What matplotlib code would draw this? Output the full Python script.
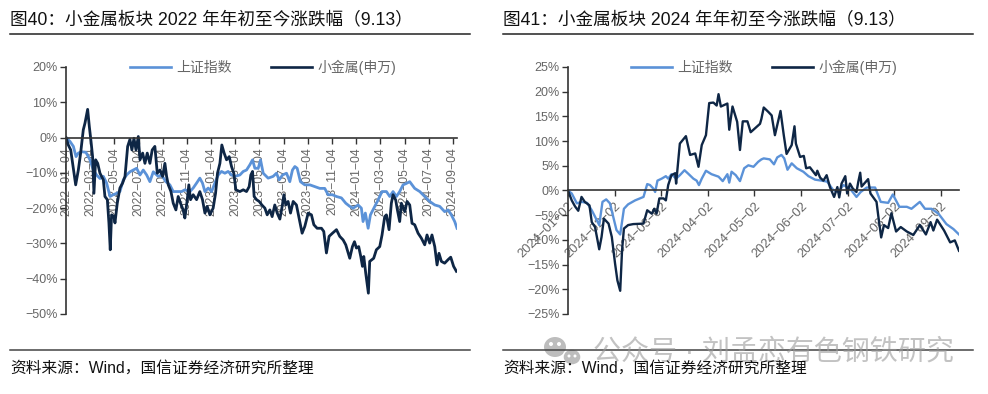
import numpy as np
import matplotlib
matplotlib.use('Agg')
import matplotlib.pyplot as plt
from matplotlib.patches import Ellipse

plt.rcParams['font.family'] = ['Liberation Sans', 'Noto Sans CJK SC', 'DejaVu Sans']
plt.rcParams['axes.unicode_minus'] = True

# x = months since start of each chart, y = percent
m22_dark = [0,.19,.39,.55,.8,1.02,1.21,1.43,1.57,1.79,1.93,2.07,2.2,2.31,2.45,2.62,2.81,3.09,3.22,3.42,3.55,3.66,3.77,3.97,4.05,4.24,4.46,4.68,4.88,5.1,5.29,5.45,5.62,5.79,5.98,6.12,6.34,6.53,6.72,6.94,7.13,7.35,7.55,7.77,7.99,8.18,8.32,8.46,8.68,8.87,9.09,9.28,9.47,9.69,9.83,10.03,10.16,10.3,10.52,10.8,11.07,11.29,11.49,11.68,11.9,12.17,12.37,12.53,12.73,12.89,13.08,13.28,13.5,13.69,13.88,14.05,14.38,14.66,14.93,15.15,15.29,15.43,15.56,15.76,15.98,16.2,16.45,16.64,16.86,17.05,17.27,17.47,17.69,17.88,18.02,18.18,18.37,18.57,18.79,19.06,19.28,19.53,19.75,20.03,20.3,20.5,20.77,21.13,21.32,21.54,21.76,22.04,22.37,22.64,22.92,23.14,23.47,23.69,23.86,24.02,24.21,24.38,24.52,24.63,24.79,25.01,25.12,25.45,25.67,25.95,26.14,26.36,26.5,26.72,26.91,27.05,27.27,27.41,27.6,27.74,28.02,28.21,28.43,28.62,28.84,29.12,29.39,29.67,29.86,30.08,30.27,30.5,30.69,30.85,31.05,31.32,31.6,31.82,32.06,32.29]
v22_dark = [0,-2.1,-3.5,-7.3,-13.4,-9.2,-4.4,2.2,4.1,8,3.1,-1.1,-5.4,-15.8,-6.3,-7.3,-10.1,-12,-16.7,-17.6,-24.2,-31.8,-21.9,-22.4,-24.2,-18.6,-14.3,-12.9,-11,-2.5,-.5,-3.5,-.2,-3.5,.3,-6.3,-4.4,-7.3,-4.4,-7.3,-3.5,-2.5,-10.1,-9.2,-11,-7.3,-11,-13.4,-15.3,-18.6,-20.5,-16.7,-18.6,-20.5,-22.8,-17.6,-13.4,-17.6,-16.2,-17.6,-15.3,-17.6,-21.4,-19.5,-21.9,-20,-15.8,-10.1,-7.3,-2.1,-4.4,-6.3,-5.4,-8.2,-10.1,-14.8,-15.3,-14.8,-15.3,-13.9,-10.6,-9.6,-16.7,-17.6,-18.1,-19.1,-20,-21.9,-20.5,-22.4,-19.1,-21.4,-23.1,-19.5,-16.2,-19.1,-18.1,-21.4,-18.1,-19.1,-22.8,-27.1,-25.2,-21.4,-21.9,-24.7,-25.7,-25.7,-26.6,-32.7,-28,-27.1,-26.1,-28,-29,-30.4,-34.2,-30.9,-29.5,-31.3,-30.9,-33.7,-36.5,-33.7,-38.4,-44.1,-35.1,-34.2,-31.8,-30.9,-27.6,-22.4,-21.9,-26.1,-18.6,-16.2,-17.7,-20.5,-23.8,-18.6,-21,-18.1,-19.1,-24.3,-24.7,-27.1,-28.5,-30.4,-27.6,-29.9,-27.6,-30.9,-36.1,-32.8,-35.1,-35.6,-34.6,-33.9,-36.5,-37.9]

m22_blue = [0,.33,.61,.83,1.02,1.29,1.65,1.98,2.26,2.53,2.81,3.09,3.36,3.64,3.91,4.19,4.46,4.74,5.01,5.29,5.56,5.84,6.12,6.39,6.67,6.94,7.22,7.63,7.9,8.26,8.59,8.87,9.2,9.56,9.83,10.25,10.52,10.8,11.07,11.29,11.49,11.76,12.04,12.31,12.59,12.86,13.14,13.41,13.69,13.97,14.38,14.66,14.93,15.21,15.43,15.62,15.9,16.09,16.31,16.72,17.13,17.41,17.63,17.91,18.24,18.51,18.73,18.93,19.12,19.39,19.75,20.17,20.58,20.99,21.4,21.68,22.04,22.37,22.78,23.14,23.47,23.75,24.16,24.43,24.57,24.76,24.99,25.18,25.54,25.81,26.14,26.5,26.78,27.05,27.33,27.6,27.88,28.15,28.43,28.84,29.26,29.67,30.08,30.5,30.91,31.32,31.6,31.87,32.15,32.34]
v22_blue = [0,-1.1,-2.5,-5.4,-4.4,-4,-4.2,-6.3,-9.2,-10.6,-11.6,-11,-12.9,-16.7,-16.2,-15.8,-15.3,-12,-10.6,-9.7,-9.2,-8.7,-10.6,-9.2,-10.6,-12.5,-9.7,-11,-10.6,-12.5,-13.4,-15.3,-15.3,-15.3,-14.8,-15.3,-14.3,-12.9,-11.5,-12.9,-15.3,-14.3,-15.3,-12.9,-10.6,-9.6,-10.1,-9.6,-10.6,-11,-10.6,-9.6,-9.2,-7.7,-6.3,-8.7,-8.7,-6.3,-10.1,-11.5,-11,-10.1,-12,-10.6,-10.1,-12.5,-9.2,-8.2,-8.7,-12.5,-13.4,-13.4,-13.9,-14.4,-14.4,-16.2,-16.2,-16.7,-17.1,-18.6,-19.5,-20,-19.1,-20,-23.8,-21.4,-25.7,-21.9,-19.5,-17.7,-15.3,-15.3,-16.7,-15.3,-16.7,-15.3,-13.4,-13,-12.5,-14.4,-15.3,-16.7,-18.1,-19.1,-19.5,-21,-20.5,-21.9,-23.8,-25.7]

m24_dark = [0,.08,.15,.22,.29,.36,.46,.51,.58,.67,.72,.77,.87,.94,1.01,1.06,1.12,1.16,1.2,1.29,1.4,1.62,1.7,1.8,1.85,1.9,1.96,2.05,2.1,2.15,2.22,2.3,2.32,2.4,2.53,2.62,2.73,2.8,2.87,2.96,3.03,3.12,3.19,3.23,3.28,3.42,3.46,3.53,3.63,3.69,3.75,3.85,3.92,4.12,4.15,4.2,4.3,4.37,4.44,4.56,4.63,4.69,4.8,4.86,4.89,4.98,5.06,5.11,5.19,5.32,5.35,5.41,5.48,5.55,5.62,5.71,5.78,5.82,5.87,5.95,5.99,6.05,6.11,6.19,6.23,6.27,6.3,6.44,6.49,6.62,6.66,6.72,6.78,6.87,6.94,7.04,7.14,7.27,7.41,7.55,7.68,7.78,7.84,7.92,8.07,8.2,8.3,8.39]
v24_dark = [0,-2,-3.2,-4.1,-1.3,-2.3,-3,-6.4,-7.4,-11.9,-9.4,-5.7,-6.7,-9.4,-14.8,-18.2,-20.3,-12.1,-7.7,-7,-6.8,-6.7,-4,-4.7,-3.7,-4.7,-1.6,-1.6,-2,1.1,3.1,3.5,1.4,9.5,11,7.2,7.5,4.8,9.2,11.2,17.7,17.8,17.2,19.5,17,17.6,12.3,17,13.9,8.2,14,14,11.8,13.5,14.5,16.8,15.9,15.2,11.2,16.1,11.2,7.4,9.2,13,9.5,6.8,7,4.5,4.7,3.1,4,2.6,2,3.1,.7,-1.3,.7,-1.4,1.4,2.9,-.6,1.4,.4,-.3,1.8,3.6,.8,2.3,-.6,-2.3,-5.3,-9.5,-7,-7.6,-4.6,-8.3,-7.4,-8.3,-9,-7,-8.9,-6.4,-8.1,-5.9,-8.1,-10.5,-10.1,-12.2]

m24_blue = [0,.08,.19,.29,.41,.51,.58,.67,.74,.82,.9,.97,1.04,1.12,1.2,1.29,1.44,1.62,1.7,1.76,1.83,1.87,1.92,2.01,2.1,2.15,2.22,2.32,2.4,2.5,2.58,2.69,2.76,2.81,2.87,2.96,3.08,3.23,3.32,3.42,3.46,3.51,3.6,3.69,3.78,3.87,3.98,4.08,4.15,4.2,4.33,4.42,4.49,4.58,4.64,4.71,4.8,4.91,5.05,5.16,5.3,5.44,5.56,5.69,5.8,5.91,6.05,6.19,6.28,6.41,6.59,6.71,6.87,6.97,7.11,7.27,7.37,7.55,7.66,7.8,7.95,8.12,8.27,8.39]
v24_blue = [0,-.6,-2.6,-2.3,-2.5,-4,-5.3,-7,-2.3,-1.8,-2.6,-5.3,-8,-8.9,-3.7,-2.8,-2,-1.3,1.3,1.1,.4,-.3,2,2.4,2.9,2.4,3.3,2.4,3.1,4.1,3.4,2.4,2,1.1,2.4,4,3.3,2.8,1.9,3.3,1.6,3.8,3.1,1.9,4.5,5.1,4.8,5.8,6.3,6.5,6.3,5.3,6.7,7.2,6.5,4.2,5.5,4.5,3.8,2.9,2.2,2,1.8,.1,-.3,1.1,.4,-1.3,-.3,.6,.6,-2.3,-2.5,-.8,-3.3,-3.3,-3.7,-2.3,-3.7,-3.7,-4.7,-6.8,-7.8,-8.9]

ticks22 = ['2022-01-04','2022-03-04','2022-05-04','2022-07-04','2022-09-04','2022-11-04','2023-01-04','2023-03-04','2023-05-04','2023-07-04','2023-09-04','2023-11-04','2024-01-04','2024-03-04','2024-05-04','2024-07-04','2024-09-04']
ticks24 = ['2024-01-02','2024-02-02','2024-03-02','2024-04-02','2024-05-02','2024-06-02','2024-07-02','2024-08-02','2024-09-02']
yticks22 = [20,10,0,-10,-20,-30,-40,-50]
yticks24 = [25,20,15,10,5,0,-5,-10,-15,-20,-25]
names = ['上证指数', '小金属(申万)']
title22 = '图40\uFF1A小金属板块 2022 年年初至今涨跌幅\uFF089.13\uFF09'
title24 = '图41\uFF1A小金属板块 2024 年年初至今涨跌幅\uFF089.13\uFF09'
source = '资料来源\uFF1AWind\uFF0C国信证券经济研究所整理'

BLUE = '#5B92D8'
DARK = '#0E2645'
GRAY = '#666666'
W, H = 988, 394

fig = plt.figure(figsize=(W / 100, H / 100), dpi=100)


def make_axes(x0, x1, y0=67, y1=314):
    return fig.add_axes([x0 / W, 1 - y1 / H, (x1 - x0) / W, (y1 - y0) / H])


def style(ax, lw, mx, ymin, ymax, yt, xt, xl, rot, legx):
    ax.plot(mx[0], mx[1], color=BLUE, lw=lw, label=names[0], solid_joinstyle='round')
    ax.plot(mx[2], mx[3], color=DARK, lw=lw, label=names[1], solid_joinstyle='round')
    ax.set_xlim(0, max(mx[0][-1], mx[2][-1]))
    ax.set_ylim(ymin, ymax)
    for s in ['top', 'right']:
        ax.spines[s].set_visible(False)
    ax.spines['bottom'].set_position(('data', 0))
    ax.spines['bottom'].set_color('#333333')
    ax.spines['left'].set_color('#333333')
    ax.spines['bottom'].set_linewidth(1.2)
    ax.spines['left'].set_linewidth(1.2)
    ax.set_yticks(yt)
    ax.set_yticklabels([f'{v}%'.replace('-', '−') for v in yt], family=['Liberation Sans Narrow', 'Liberation Sans'],
                       fontsize=9, color=GRAY)
    ax.set_xticks(xt)
    if rot == 90:
        ax.set_xticklabels([t.replace('-', '−') for t in xl], rotation=90, fontsize=8.8, color=GRAY)
    else:
        ax.set_xticklabels([t.replace('-', '−') for t in xl], rotation=45, ha='right', rotation_mode='anchor',
                           fontsize=9.3, color=GRAY)
    ax.tick_params(axis='x', length=4, width=1, color='#333333', pad=3)
    ax.tick_params(axis='y', length=4, width=1, color='#333333', pad=2)
    ax.patch.set_alpha(0)
    leg = ax.legend(loc='center left', bbox_to_anchor=(legx, 1.0), ncol=2, frameon=False, fontsize=10,
                    handlelength=2.95, handletextpad=.4, columnspacing=2.8, borderpad=0, borderaxespad=0,
                    labelcolor=GRAY)
    for h in leg.get_lines():
        h.set_linewidth(1.9)


ax1 = make_axes(66, 457)
style(ax1, 2.0, [m22_blue, v22_blue, m22_dark, v22_dark], -50, 20, yticks22,
      np.arange(0, 33, 2), ticks22, 90, .164)
ax2 = make_axes(568, 959)
style(ax2, 1.7, [m24_blue, v24_blue, m24_dark, v24_dark], -25, 25, yticks24,
      np.arange(0, 9), ticks24, 45, .161)

# watermark sits under the rules and source note
for cx, cy, w, h, edge in [(555, 347, 22, 20, 'none'), (572, 357, 18, 16, 'white')]:
    fig.add_artist(Ellipse((cx / W, 1 - cy / H), w / W, h / H, facecolor='#BDBDBD', edgecolor=edge, lw=1,
                           transform=fig.transFigure))
for cx, cy, r in [(551, 344, 2), (559, 344, 2), (569, 356, 1.5), (575, 356, 1.5)]:
    fig.add_artist(Ellipse((cx / W, 1 - cy / H), 2 * r / W, 2 * r / H, facecolor='white', lw=0,
                           transform=fig.transFigure))
fig.text(593 / W, 1 - 352 / H, '公众号 · 刘孟恋有色钢铁研究', fontsize=20.2, color='#9A9A9A', alpha=.6,
         va='center', ha='left')

# headers, rules and source notes
for x0, x1, title in [(10, 470, title22), (503, 973, title24)]:
    fig.text(x0 / W, 1 - 20 / H, title, fontsize=12.7, color='#111111', va='center', ha='left')
    fig.add_artist(plt.Line2D([x0 / W, x1 / W], [1 - 34 / H] * 2, color='#222222', lw=1.1))
    fig.add_artist(plt.Line2D([x0 / W, x1 / W], [1 - 350 / H] * 2, color='#444444', lw=1.1))
    fig.text(x0 / W, 1 - 368 / H, source, fontsize=11.3, color='#111111', va='center', ha='left')

fig.savefig('out.png', dpi=100)
